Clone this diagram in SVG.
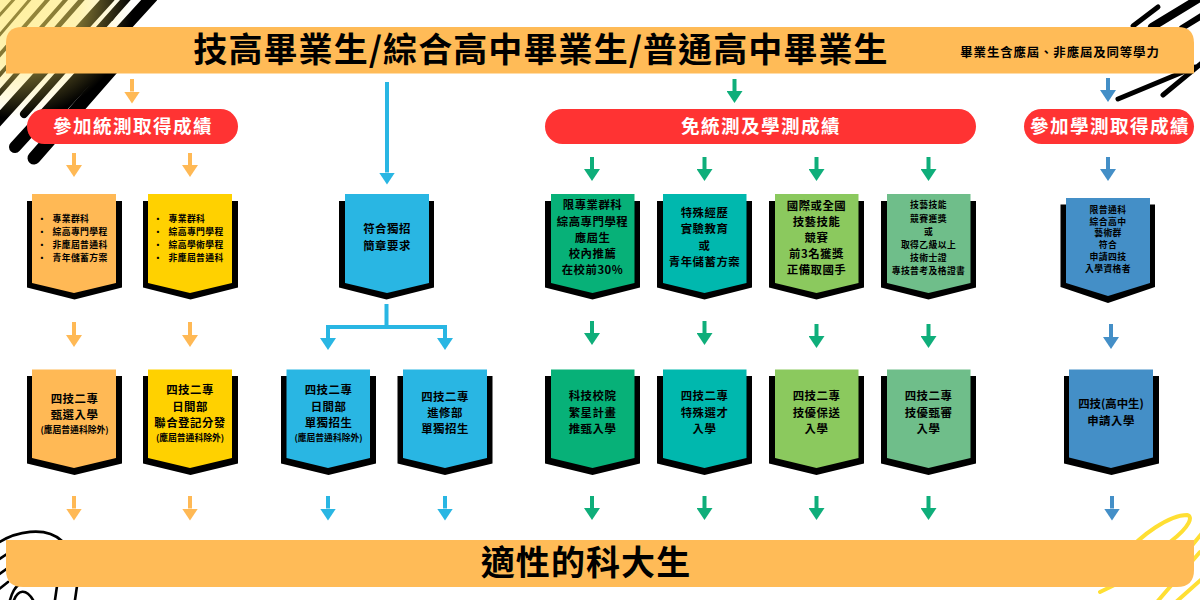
<svg xmlns="http://www.w3.org/2000/svg" width="1200" height="600" viewBox="0 0 1200 600">
<style>
text{font-family:"Noto Sans CJK TC","Noto Sans CJK SC","Liberation Sans",sans-serif;font-weight:700;fill:#000;text-anchor:middle}
.bk{fill:#000}
.l{font-size:11.4px;letter-spacing:.5px}
.s{font-size:8.8px;letter-spacing:.4px}
.m{font-size:8.8px;letter-spacing:.4px}
.ll{text-anchor:start}
.pill{fill:#ff3333}
.pt{font-size:18.6px;letter-spacing:1.4px;fill:#fff}
.bar{fill:#ffbb57}
.big{font-size:34px;letter-spacing:1.1px}
.o{fill:#ffb955}.y{fill:#ffd100}.b{fill:#29b6e3}.g{fill:#07b178}.t{fill:#00b8ae}.lg{fill:#8bc95e}.sg{fill:#6fbe8a}.st{fill:#448fc7}
.a{fill:none;stroke-width:4}
.ao{stroke:#ffb955;marker-end:url(#mo)}
.ab{stroke:#29b6e3;marker-end:url(#mb)}
.ag{stroke:#0fae7a;marker-end:url(#mg)}
.as{stroke:#448fc7;marker-end:url(#ms)}
.sc{fill:none;stroke:#000;stroke-linecap:round}
.yl{fill:none;stroke:#ffdf33;stroke-width:4;stroke-linecap:round}
.fp{fill:none;stroke:#000;stroke-width:2.6;stroke-linecap:round}
</style>
<defs>
<marker id="mo" markerUnits="userSpaceOnUse" markerWidth="12" markerHeight="16" refX="0" refY="8" orient="auto" viewBox="0 0 12 16"><path d="M0 0L12 8L0 16z" fill="#ffb955"/></marker>
<marker id="mb" markerUnits="userSpaceOnUse" markerWidth="12" markerHeight="16" refX="0" refY="8" orient="auto" viewBox="0 0 12 16"><path d="M0 0L12 8L0 16z" fill="#29b6e3"/></marker>
<marker id="mg" markerUnits="userSpaceOnUse" markerWidth="12" markerHeight="16" refX="0" refY="8" orient="auto" viewBox="0 0 12 16"><path d="M0 0L12 8L0 16z" fill="#0fae7a"/></marker>
<marker id="ms" markerUnits="userSpaceOnUse" markerWidth="12" markerHeight="16" refX="0" refY="8" orient="auto" viewBox="0 0 12 16"><path d="M0 0L12 8L0 16z" fill="#448fc7"/></marker>
<radialGradient id="glow" gradientUnits="userSpaceOnUse" cx="15" cy="0" r="118"><stop offset="0" stop-color="#ffe765" stop-opacity=".62"/><stop offset=".55" stop-color="#ffe765" stop-opacity=".5"/><stop offset="1" stop-color="#ffe765" stop-opacity="0"/></radialGradient>
</defs>
<g id="background">
<g class="sc">
<path d="M34 158L118 62" stroke-width="13"/>
<path d="M15 147L152 -3" stroke-width="12"/>
<path d="M-6 125L110 -3" stroke-width="11"/>
<path d="M24 114L128 -3" stroke-width="8"/>
<path d="M60 110L125 40" stroke-width="10"/>
<path d="M-3 96L84 -3" stroke-width="5"/>
<path d="M-3 78L68 -3" stroke-width="4"/>
<path d="M-3 58L50 -3" stroke-width="4"/>
<path d="M-3 38L32 -3" stroke-width="3"/>
<path d="M-3 18L16 -3" stroke-width="3"/>
<path d="M112 20L122 6" stroke-width="2"/>
<path d="M1133 26L1158 7" stroke-width="5"/>
<path d="M1152 27L1203 -4" stroke-width="8"/>
<path d="M1182 28L1203 15" stroke-width="6"/>
<path d="M1118 99L1195 67" stroke-width="5"/>
<path d="M1163 95L1203 62" stroke-width="5"/>
</g>
<rect x="0" y="0" width="140" height="125" fill="url(#glow)"/>
<path class="yl" d="M1100 592L1135 575M1125 555C1140 535 1170 515 1187 515C1193 516 1191 526 1170 542M1157 602L1200 552M1176 602L1203 578M1190 548L1203 532"/>
<path class="fp" d="M-2 543C15 532 45 525 62 541M-2 560L10 552M-2 575L12 565M10 600C14 585 22 580 30 585M14 600C18 590 26 588 33 600M57 586L55 600M77 586L75 600M-2 590L8 582"/>
</g>
<g id="connectors">
<path class="a ao" d="M132 79V91.5"/>
<path class="a ab" d="M387 82V172.5"/>
<path class="a ag" d="M734.500 79V91"/>
<path class="a as" d="M1108 78V90"/>
<path class="a ao" d="M74 153V165"/><path class="a ao" d="M190 153V165"/>
<path class="a ag" d="M592 157V169"/><path class="a ag" d="M704.500 157V169"/><path class="a ag" d="M816.500 157V169"/><path class="a ag" d="M928.500 157V169"/>
<path class="a as" d="M1108 157V169"/>
<path class="a ao" d="M74 322V335"/><path class="a ao" d="M190 322V335"/>
<path class="a" stroke="#29b6e3" d="M386.500 304V327"/>
<path class="a ab" d="M328 338V327H445V338"/>
<path class="a ab" d="M328 327V338"/>
<path class="a ag" d="M592 321V333"/><path class="a ag" d="M704.500 321V333"/><path class="a ag" d="M816.500 324V336"/><path class="a ag" d="M928.500 324V336"/>
<path class="a as" d="M1111 324V337"/>
<path class="a ao" d="M74 496V508.500"/><path class="a ao" d="M190 496V508.500"/>
<path class="a ab" d="M328 496V508.500"/><path class="a ab" d="M445 496V508.500"/>
<path class="a ag" d="M592 496V508"/><path class="a ag" d="M704.500 496V508"/><path class="a ag" d="M816.500 496V508"/><path class="a ag" d="M928.500 496V508"/>
<path class="a as" d="M1112 496V508.500"/>
</g>
<g id="top-bar"><path class="bar" d="M6 73.500V43Q6 27 22 27H1178Q1194 27 1194 43V73.500z"/>
<text class="big" x="541" y="61.500">技高畢業生/綜合高中畢業生/普通高中畢業生</text>
<text x="1060" y="56.500" style="font-size:12.400px;letter-spacing:.9px">畢業生含應屆、非應屆及同等學力</text></g>
<g id="bottom-bar"><path class="bar" d="M6 540H1194V570Q1194 587 1177 587H23Q6 587 6 570z"/>
<text class="big" x="586" y="574.500">適性的科大生</text></g>
<g id="pill-exam"><rect class="pill" x="27" y="109" width="211" height="35" rx="17.500"/><text class="pt" x="133" y="133">參加統測取得成績</text></g>
<g id="pill-free"><rect class="pill" x="545" y="109" width="431" height="35" rx="17.500"/><text class="pt" x="761" y="133">免統測及學測成績</text></g>
<g id="pill-gsat"><rect class="pill" x="1024" y="109" width="170" height="35" rx="17.500"/><text class="pt" x="1110" y="133">參加學測取得成績</text></g>

<g id="n1"><path class="bk" d="M27 201H122V287.500L74.500 299.500L27 287.500z"/><path class="o" d="M32 194H116V283L74 293L32 283z"/>
<text class="m" x="42" y="221.500">•</text><text class="m ll" x="52.500" y="221.500">專業群科</text>
<text class="m" x="42" y="234.500">•</text><text class="m ll" x="52.500" y="234.500">綜高專門學程</text>
<text class="m" x="42" y="247.500">•</text><text class="m ll" x="52.500" y="247.500">非應屆普通科</text>
<text class="m" x="42" y="260.500">•</text><text class="m ll" x="52.500" y="260.500">青年儲蓄方案</text></g>
<g id="n2"><path class="bk" d="M143 201H238V287.500L190.500 299.500L143 287.500z"/><path class="y" d="M148 194H232V283L190 293L148 283z"/>
<text class="m" x="158" y="221.500">•</text><text class="m ll" x="168.500" y="221.500">專業群科</text>
<text class="m" x="158" y="234.500">•</text><text class="m ll" x="168.500" y="234.500">綜高專門學程</text>
<text class="m" x="158" y="247.500">•</text><text class="m ll" x="168.500" y="247.500">綜高學術學程</text>
<text class="m" x="158" y="260.500">•</text><text class="m ll" x="168.500" y="260.500">非應屆普通科</text></g>
<g id="n3"><path class="bk" d="M339 201H434V287.500L386.500 299.500L339 287.500z"/><path class="b" d="M345 194H429V283L387 293L345 283z"/>
<text class="l" x="387" y="233">符合獨招</text><text class="l" x="387" y="249.500">簡章要求</text></g>
<g id="n4"><path class="bk" d="M545 201H640V287.500L592.500 299.500L545 287.500z"/><path class="g" d="M551 194H634.500V283L592.500 293L551 283z"/>
<text class="l" x="592.500" y="209">限專業群科</text><text class="l" x="592.500" y="225.500">綜高專門學程</text><text class="l" x="592.500" y="241.500">應屆生</text><text class="l" x="592.500" y="257.500">校內推薦</text><text class="l" x="592.500" y="274">在校前30%</text></g>
<g id="n5"><path class="bk" d="M657 201H752V287.500L704.500 299.500L657 287.500z"/><path class="t" d="M663 194H746.500V283L704.500 293L663 283z"/>
<text class="l" x="704.500" y="216.500">特殊經歷</text><text class="l" x="704.500" y="233">實驗教育</text><text class="l" x="704.500" y="250">或</text><text class="l" x="704.500" y="266">青年儲蓄方案</text></g>
<g id="n6"><path class="bk" d="M769 201H864V287.500L816.500 299.500L769 287.500z"/><path class="lg" d="M775 194H858.500V283L816.500 293L775 283z"/>
<text class="l" x="816.500" y="209.500">國際或全國</text><text class="l" x="816.500" y="225.500">技藝技能</text><text class="l" x="816.500" y="241.500">競賽</text><text class="l" x="816.500" y="257.500">前3名獲獎</text><text class="l" x="816.500" y="273.500">正備取國手</text></g>
<g id="n7"><path class="bk" d="M881 201H976V287.500L928.500 299.500L881 287.500z"/><path class="sg" d="M887 194H970.500V283L928.500 293L887 283z"/>
<text class="s" x="928.500" y="208">技藝技能</text><text class="s" x="928.500" y="221.500">競賽獲獎</text><text class="s" x="928.500" y="234.500">或</text><text class="s" x="928.500" y="247.500">取得乙級以上</text><text class="s" x="928.500" y="260.500">技術士證</text><text class="s" x="928.500" y="273.500">專技普考及格證書</text></g>
<g id="n8"><path class="bk" d="M1060.500 204.500H1155V287L1108 303L1060.500 287z"/><path class="st" d="M1066 198H1150V283L1108 296L1066 283z"/>
<text class="s" x="1108" y="212.500">限普通科</text><text class="s" x="1108" y="224.500">綜合高中</text><text class="s" x="1108" y="236">藝術群</text><text class="s" x="1108" y="247.500">符合</text><text class="s" x="1108" y="259.500">申請四技</text><text class="s" x="1108" y="271.500">入學資格者</text></g>

<g id="n9"><path class="bk" d="M27 376H122V463.500L74.500 475L27 463.500z"/><path class="o" d="M32 369.500H116V458L74 468L32 458z"/>
<text class="l" x="74.500" y="403">四技二專</text><text class="l" x="74.500" y="419">甄選入學</text><text x="74.500" y="432.500" style="font-size:8.800px">(應屆普通科除外)</text></g>
<g id="n10"><path class="bk" d="M143 376H238V463.500L190.500 475L143 463.500z"/><path class="y" d="M148 369.500H232V458L190 468L148 458z"/>
<text class="l" x="190" y="394">四技二專</text><text class="l" x="190" y="411">日間部</text><text class="l" x="190" y="427">聯合登記分發</text><text x="190" y="440.500" style="font-size:8.800px">(應屆普通科除外)</text></g>
<g id="n11"><path class="bk" d="M281 376H376V463.500L328.500 475L281 463.500z"/><path class="b" d="M286.500 369.500H370V458L328 468L286.500 458z"/>
<text class="l" x="328.500" y="394">四技二專</text><text class="l" x="328.500" y="411">日間部</text><text class="l" x="328.500" y="427">單獨招生</text><text x="328.500" y="440.500" style="font-size:8.800px">(應屆普通科除外)</text></g>
<g id="n12"><path class="bk" d="M397.500 376H492.500V463.500L445 475L397.500 463.500z"/><path class="b" d="M403 369.500H487V458L445 468L403 458z"/>
<text class="l" x="445" y="400.500">四技二專</text><text class="l" x="445" y="417">進修部</text><text class="l" x="445" y="433">單獨招生</text></g>
<g id="n13"><path class="bk" d="M545 376H640V463.500L592.500 475L545 463.500z"/><path class="g" d="M551 369.500H634.500V458L592.500 468L551 458z"/>
<text class="l" x="592.500" y="400">科技校院</text><text class="l" x="592.500" y="416.500">繁星計畫</text><text class="l" x="592.500" y="432.500">推甄入學</text></g>
<g id="n14"><path class="bk" d="M657 376H752V463.500L704.500 475L657 463.500z"/><path class="t" d="M663 369.500H746.500V458L704.500 468L663 458z"/>
<text class="l" x="704.500" y="400">四技二專</text><text class="l" x="704.500" y="416.500">特殊選才</text><text class="l" x="704.500" y="432.500">入學</text></g>
<g id="n15"><path class="bk" d="M769 376H864V463.500L816.500 475L769 463.500z"/><path class="lg" d="M775 369.500H858.500V458L816.500 468L775 458z"/>
<text class="l" x="816.500" y="400">四技二專</text><text class="l" x="816.500" y="416.500">技優保送</text><text class="l" x="816.500" y="432.500">入學</text></g>
<g id="n16"><path class="bk" d="M881 376H976V463.500L928.500 475L881 463.500z"/><path class="sg" d="M887 369.500H970.500V458L928.500 468L887 458z"/>
<text class="l" x="928.500" y="400">四技二專</text><text class="l" x="928.500" y="416.500">技優甄審</text><text class="l" x="928.500" y="432.500">入學</text></g>
<g id="n17"><path class="bk" d="M1064 376H1159V463.500L1111.500 475L1064 463.500z"/><path class="st" d="M1069 369.500H1153V457.500L1111 468L1069 457.500z"/>
<text class="l" x="1111" y="408" style="letter-spacing:0">四技(高中生)</text><text class="l" x="1111" y="425">申請入學</text></g>
</svg>
